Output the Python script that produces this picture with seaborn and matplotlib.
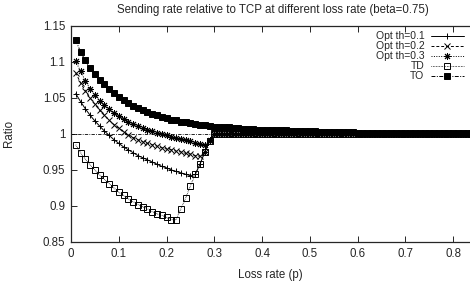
import numpy as np
import pandas as pd
import seaborn as sns
import matplotlib
matplotlib.use("Agg")
import matplotlib.pyplot as plt

# loss rate grid, step 0.01
loss_rate = np.round(np.arange(1, 85) * 0.01, 2)

# ratio values are flat at 1 once p passes 0.30 (TD and the Opt curves)
after_p30 = [1.0, 1.0, 1.0, 1.0, 1.0, 1.0, 1.0, 1.0, 1.0, 1.0, 1.0, 1.0, 1.0, 1.0, 1.0, 1.0, 1.0, 1.0,
             1.0, 1.0, 1.0, 1.0, 1.0, 1.0, 1.0, 1.0, 1.0, 1.0, 1.0, 1.0, 1.0, 1.0, 1.0, 1.0, 1.0, 1.0,
             1.0, 1.0, 1.0, 1.0, 1.0, 1.0, 1.0, 1.0, 1.0, 1.0, 1.0, 1.0, 1.0, 1.0, 1.0, 1.0, 1.0, 1.0]

opt_01 = [1.056, 1.045, 1.035, 1.026, 1.018, 1.011, 1.004, 0.998, 0.992, 0.987,
          0.982, 0.978, 0.974, 0.970, 0.967, 0.964, 0.961, 0.958, 0.955, 0.953,
          0.950, 0.948, 0.946, 0.944, 0.942, 0.944, 0.958, 0.975, 0.990, 1.000] + after_p30
opt_02 = [1.085, 1.071, 1.060, 1.050, 1.041, 1.033, 1.026, 1.019, 1.013, 1.008,
          1.003, 0.999, 0.995, 0.992, 0.989, 0.987, 0.985, 0.983, 0.981, 0.979,
          0.978, 0.976, 0.975, 0.973, 0.972, 0.970, 0.969, 0.975, 0.990, 1.000] + after_p30
opt_03 = [1.101, 1.087, 1.074, 1.063, 1.054, 1.046, 1.040, 1.034, 1.029, 1.025,
          1.021, 1.017, 1.014, 1.011, 1.008, 1.006, 1.004, 1.002, 1.000, 0.998,
          0.996, 0.994, 0.993, 0.991, 0.990, 0.988, 0.986, 0.985, 0.991, 1.000] + after_p30
td = [0.985, 0.974, 0.965, 0.957, 0.950, 0.943, 0.937, 0.931, 0.925, 0.919,
      0.915, 0.910, 0.906, 0.902, 0.899, 0.896, 0.892, 0.889, 0.887, 0.884,
      0.881, 0.881, 0.896, 0.911, 0.928, 0.944, 0.958, 0.975, 0.990, 1.000] + after_p30
to = [1.130, 1.114, 1.102, 1.091, 1.083, 1.075, 1.069, 1.062, 1.057, 1.052,
      1.047, 1.043, 1.039, 1.036, 1.033, 1.030, 1.028, 1.026, 1.024, 1.022,
      1.020, 1.019, 1.017, 1.016, 1.015, 1.014, 1.013, 1.012, 1.011, 1.010,
      1.010, 1.009, 1.009, 1.008, 1.008, 1.007, 1.007, 1.007, 1.006, 1.006,
      1.006, 1.005, 1.005, 1.005, 1.005, 1.004, 1.004, 1.004, 1.004, 1.004,
      1.004, 1.003, 1.003, 1.003, 1.003, 1.003, 1.003, 1.003, 1.003, 1.002,
      1.002, 1.002, 1.002, 1.002, 1.002, 1.002, 1.002, 1.002, 1.002, 1.002,
      1.002, 1.002, 1.002, 1.002, 1.001, 1.001, 1.001, 1.001, 1.001, 1.001,
      1.001, 1.001, 1.001, 1.001]

labels = ["Opt th=0.1", "Opt th=0.2", "Opt th=0.3", "TD", "TO"]
x_ticks = [0, 0.1, 0.2, 0.3, 0.4, 0.5, 0.6, 0.7, 0.8]
x_ticklabels = ["0", "0.1", "0.2", "0.3", "0.4", "0.5", "0.6", "0.7", "0.8"]
y_ticks = [0.85, 0.9, 0.95, 1.0, 1.05, 1.1, 1.15]
y_ticklabels = ["0.85", "0.9", "0.95", "1", "1.05", "1.1", "1.15"]

df = pd.DataFrame({"p": loss_rate, labels[0]: opt_01, labels[1]: opt_02,
                   labels[2]: opt_03, labels[3]: td, labels[4]: to})

sns.set_style("ticks")
plt.rcParams["font.family"] = ["Liberation Sans", "DejaVu Sans"]
fs = 8.3

fig = plt.figure(figsize=(4.7, 2.85), dpi=100)
ax = fig.add_axes([0.151, 0.151, 0.849, 0.758])

# gnuplot-ish monochrome styles
styles = {
    "Opt th=0.1": dict(marker="+", ms=5, ls="-", mfc="none"),
    "Opt th=0.2": dict(marker="x", ms=4.3, dashes=(3, 2), mfc="none"),
    "Opt th=0.3": dict(marker=(8, 2, 0), ms=5, dashes=(1, 1.5), mfc="none"),
    "TD": dict(marker="s", ms=4.8, dashes=(0.6, 1.0), mfc="none"),
    "TO": dict(marker="s", ms=4.8, dashes=(4, 1.5, 1, 1.5), mfc="k"),
}

ax.axhline(1.0, color="k", lw=0.6, dashes=(4, 1.5, 1, 1.5), zorder=1)

for lab in labels:
    st = styles[lab]
    sns.lineplot(data=df, x="p", y=lab, ax=ax, color="k", lw=0.7,
                 mec="k", mew=0.7, label=lab, **st)

ax.set_xlim(0, 0.835)
ax.set_ylim(0.85, 1.15)
ax.set_xticks(x_ticks)
ax.set_xticklabels(x_ticklabels)
ax.set_yticks(y_ticks)
ax.set_yticklabels(y_ticklabels)
ax.tick_params(direction="in", length=4, width=0.7, top=True, right=False,
               labelsize=fs, pad=4)
for s in ["left", "bottom", "top"]:
    ax.spines[s].set_linewidth(0.9)
ax.spines["right"].set_visible(False)

ax.set_xlabel("Loss rate (p)", fontsize=fs)
ax.set_ylabel("Ratio", fontsize=fs)
ax.xaxis.set_label_coords(0.499, -0.125)
ax.yaxis.set_label_coords(-0.14, 0.5)
ax.text(0.506, 1.074, "Sending rate relative to TCP at different loss rate (beta=0.75)",
        transform=ax.transAxes, ha="center", va="center", fontsize=fs)

leg = ax.legend(loc="upper right", bbox_to_anchor=(0.985, 0.975), frameon=False,
                markerfirst=False, handlelength=3.2, handletextpad=0.6,
                labelspacing=0.0, borderaxespad=0, borderpad=0, fontsize=7.5)

fig.savefig("out.png", dpi=100)
